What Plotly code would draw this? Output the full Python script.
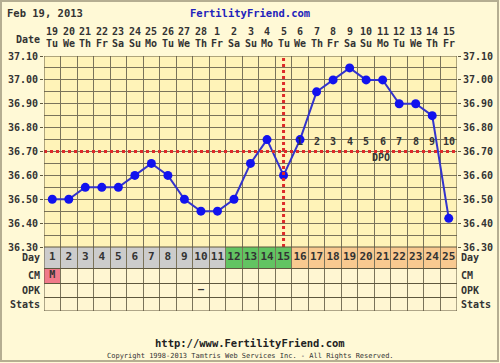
import plotly.graph_objects as go

# ---------------- data ----------------
cycle_days = list(range(1, 26))
date_nums = ["19", "20", "21", "22", "23", "24", "25", "26", "27", "28", "1", "2", "3",
             "4", "5", "6", "7", "8", "9", "10", "11", "12", "13", "14", "15"]
weekdays = ["Tu", "We", "Th", "Fr", "Sa", "Su", "Mo", "Tu", "We", "Th", "Fr", "Sa", "Su",
            "Mo", "Tu", "We", "Th", "Fr", "Sa", "Su", "Mo", "Tu", "We", "Th", "Fr"]
temps = [36.50, 36.50, 36.55, 36.55, 36.55, 36.60, 36.65, 36.60, 36.50, 36.45, 36.45,
         36.50, 36.65, 36.75, 36.60, 36.75, 36.95, 37.00, 37.05, 37.00, 37.00, 36.90,
         36.90, 36.85, 36.42]
phase = ["pre"] * 11 + ["fertile"] * 4 + ["post"] * 10
cm_obs = ["M"] + [""] * 24
opk_obs = [""] * 9 + ["\u2013"] + [""] * 15
stats_obs = [""] * 25
dpo_days = [16, 17, 18, 19, 20, 21, 22, 23, 24, 25]
dpo_labels = ["1", "2", "3", "4", "5", "6", "7", "8", "9", "10"]
coverline = 36.70
ovulation_day = 15
temp_ticks = ["36.30", "36.40", "36.50", "36.60", "36.70", "36.80", "36.90", "37.00", "37.10"]
temp_minor = [36.35, 36.45, 36.55, 36.65, 36.75, 36.85, 36.95, 37.05]
row_names = ["Day", "CM", "OPK", "Stats"]
row_edges = [0, 21, 36, 50, 64]  # table row boundaries (pixel-like units)

# ---------------- styles ----------------
FONT = "DejaVu Sans Mono"
TXT = "#333333"
GRID = "#7A735A"
PAPER = "#FFF9D6"
PLOTBG = "#FFF3B8"
CELL = "#FFF6D2"
phase_colors = {"pre": "#CCCCCC", "fertile": "#62C462", "post": "#F8C990"}
CM_COLOR = "#F07A8A"
FS = 10

W, H = 500, 363
L, R, T, B = 44, 43, 56, 52
PW, PH = W - L - R, H - T - B
table_frac = 64 / PH


def px_x(p):
    return (p - L) / PW


def px_y(p):
    return (H - B - p) / PH


fig = go.Figure()

# temperature line
fig.add_trace(go.Scatter(
    x=cycle_days, y=temps, mode="lines+markers",
    line=dict(color="#3333CC", width=2),
    marker=dict(color="#1212EE", size=9),
    xaxis="x", yaxis="y", hoverinfo="skip", showlegend=False))
# invisible trace for right temperature axis
fig.add_trace(go.Scatter(
    x=cycle_days, y=temps, mode="markers", marker=dict(opacity=0),
    xaxis="x", yaxis="y3", hoverinfo="skip", showlegend=False))

# table cells
shapes = []
for i, d in enumerate(cycle_days):
    fills = [phase_colors[phase[i]], CM_COLOR if cm_obs[i] else CELL, CELL, CELL]
    for r in range(4):
        shapes.append(dict(type="rect", xref="x", yref="y2", x0=d - 0.5, x1=d + 0.5,
                           y0=row_edges[r], y1=row_edges[r + 1], fillcolor=fills[r],
                           line=dict(width=0), layer="below"))

# table text
row_mid = [(row_edges[r] + row_edges[r + 1]) / 2 for r in range(4)]
fig.add_trace(go.Scatter(
    x=cycle_days, y=[row_mid[0]] * 25, text=[str(d) for d in cycle_days], mode="text",
    textfont=dict(family=FONT, size=FS + 1, color=TXT, weight="bold"),
    xaxis="x", yaxis="y2", hoverinfo="skip", showlegend=False))
fig.add_trace(go.Scatter(
    x=cycle_days, y=[row_mid[1]] * 25, text=cm_obs, mode="text",
    textfont=dict(family=FONT, size=FS, color=TXT, weight="bold"),
    xaxis="x", yaxis="y2", hoverinfo="skip", showlegend=False))
fig.add_trace(go.Scatter(
    x=cycle_days, y=[row_mid[2]] * 25, text=opk_obs, mode="text",
    textfont=dict(family=FONT, size=FS, color=TXT, weight="bold"),
    xaxis="x", yaxis="y2", hoverinfo="skip", showlegend=False))

# coverline & ovulation line
shapes.append(dict(type="line", xref="x", yref="y", x0=0.5, x1=25.5, y0=coverline, y1=coverline,
                   line=dict(color="#DD2A2A", width=3, dash="dot"), layer="above"))
shapes.append(dict(type="line", xref="x", yref="y", x0=ovulation_day, x1=ovulation_day,
                   y0=36.30, y1=37.10, line=dict(color="#DD2A2A", width=3, dash="dot"),
                   layer="above"))
# borders
shapes.append(dict(type="rect", xref="x", yref="y", x0=0.5, x1=25.5, y0=36.30, y1=37.10,
                   line=dict(color="#5E573E", width=1), layer="above"))
shapes.append(dict(type="rect", xref="x", yref="y2", x0=0.5, x1=25.5, y0=0, y1=64,
                   line=dict(color="#5E573E", width=1), layer="above"))
# outer image frame
shapes.append(dict(type="rect", xref="paper", yref="paper",
                   x0=px_x(1), x1=px_x(498), y0=px_y(1), y1=px_y(361),
                   line=dict(color="#B5AE92", width=2), layer="below"))

ann = []
af = dict(family=FONT, size=FS, color=TXT, weight="bold")
for i, d in enumerate(cycle_days):
    ann.append(dict(x=d, xref="x", y=px_y(32), yref="paper", text=date_nums[i],
                    showarrow=False, font=af, yanchor="middle"))
    ann.append(dict(x=d, xref="x", y=px_y(44), yref="paper", text=weekdays[i],
                    showarrow=False, font=af, yanchor="middle"))
ann.append(dict(x=px_x(42), xref="paper", y=px_y(39), yref="paper", text="Date",
                showarrow=False, font=af, xanchor="right", yanchor="middle"))
for r, name in enumerate(row_names):
    ann.append(dict(x=px_x(42), xref="paper", y=row_mid[r], yref="y2", text=name,
                    showarrow=False, font=af, xanchor="right", yanchor="middle"))
    ann.append(dict(x=px_x(459), xref="paper", y=row_mid[r], yref="y2", text=name,
                    showarrow=False, font=af, xanchor="left", yanchor="middle"))
for d, lab in zip(dpo_days, dpo_labels):
    ann.append(dict(x=d, xref="x", y=36.74, yref="y", text=lab, showarrow=False,
                    font=af, yanchor="middle"))
ann.append(dict(x=20.9, xref="x", y=36.673, yref="y", text="DPO", showarrow=False,
                font=af, yanchor="middle"))
ann.append(dict(x=px_x(5), xref="paper", y=px_y(13), yref="paper", text="Feb 19, 2013",
                showarrow=False, font=dict(family=FONT, size=FS + 0.5, color=TXT, weight="bold"),
                xanchor="left", yanchor="middle"))
ann.append(dict(x=px_x(250), xref="paper", y=px_y(13), yref="paper",
                text="FertilityFriend.com", showarrow=False,
                font=dict(family=FONT, size=FS + 0.5, color="#2222BB", weight="bold"),
                yanchor="middle"))
ann.append(dict(x=px_x(250), xref="paper", y=px_y(343), yref="paper",
                text="http://www.FertilityFriend.com", showarrow=False,
                font=dict(family=FONT, size=FS + 0.5, color="#222222", weight="bold"),
                yanchor="middle"))
ann.append(dict(x=px_x(250), xref="paper", y=px_y(356), yref="paper",
                text="Copyright 1998-2013 Tamtris Web Services Inc. - All Rights Reserved.",
                showarrow=False, font=dict(family=FONT, size=7, color="#333333"),
                yanchor="middle"))

tv = [float(t) for t in temp_ticks]
yaxis_common = dict(range=[36.30, 37.10], tickvals=tv, ticktext=temp_ticks,
                    tickfont=dict(family=FONT, size=FS, color=TXT, weight="bold"),
                    ticks="outside", ticklen=3, tickcolor="#5E573E",
                    gridcolor=GRID, gridwidth=1, zeroline=False,
                    fixedrange=True, automargin=False, showline=False)

fig.update_layout(
    template="none",
    width=W, height=H, margin=dict(l=L, r=R, t=T, b=B, pad=0, autoexpand=False),
    paper_bgcolor=PAPER, plot_bgcolor=PLOTBG, showlegend=False,
    xaxis=dict(range=[0.5, 25.5], showticklabels=False, ticks="", showgrid=False,
               zeroline=False, anchor="y", automargin=False, showline=False,
               minor=dict(tickvals=[d - 0.5 for d in cycle_days] + [25.5], showgrid=True,
                          gridcolor=GRID, gridwidth=1, ticks="")),
    yaxis=dict(domain=[table_frac, 1], side="left", anchor="x", showgrid=True,
               minor=dict(tickvals=temp_minor, showgrid=True, gridcolor=GRID, gridwidth=1,
                          ticks=""), **yaxis_common),
    yaxis3=dict(overlaying="y", side="right", anchor="x", showgrid=False, **yaxis_common),
    yaxis2=dict(domain=[0, table_frac], range=[64, 0], anchor="x", showticklabels=False,
                ticks="", tickvals=row_edges, showgrid=True, gridcolor="#5E573E",
                zeroline=False, automargin=False, showline=False),
    shapes=shapes, annotations=ann,
)

fig.write_html("out.html", config={"displayModeBar": False},
               post_script="document.body.style.margin='0';document.body.style.overflow='hidden';")
